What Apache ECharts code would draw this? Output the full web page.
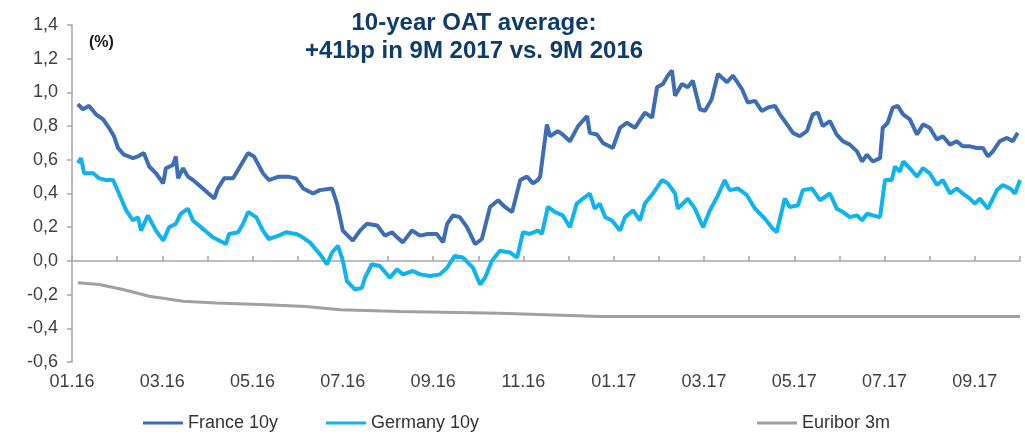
<!DOCTYPE html>
<html>
<head>
<meta charset="utf-8">
<script src="https://cdn.jsdelivr.net/npm/echarts@6/dist/echarts.min.js"></script>
<style>
  html, body { margin: 0; padding: 0; background: #fff; }
  #chart { width: 1025px; height: 437px; }
</style>
</head>
<body>
<div id="chart"></div>
<script>
// x = months since 01.2016, y = yield in %
const monthLabels = ['01.16', '03.16', '05.16', '07.16', '09.16', '11.16', '01.17', '03.17', '05.17', '07.17', '09.17'];

const france10y = [
  [0.13, 0.93], [0.24, 0.90], [0.38, 0.92], [0.53, 0.87], [0.69, 0.84], [0.82, 0.79], [0.93, 0.74],
  [1.02, 0.67], [1.15, 0.63], [1.35, 0.61], [1.46, 0.62], [1.59, 0.64], [1.71, 0.56], [1.86, 0.52],
  [2.02, 0.46], [2.08, 0.55], [2.24, 0.57], [2.30, 0.62], [2.35, 0.49], [2.46, 0.55], [2.57, 0.50],
  [2.68, 0.48], [2.90, 0.43], [3.15, 0.37], [3.23, 0.43], [3.37, 0.49], [3.57, 0.49], [3.70, 0.55],
  [3.90, 0.64], [4.03, 0.62], [4.23, 0.52], [4.36, 0.48], [4.58, 0.50], [4.78, 0.50], [4.96, 0.49],
  [5.12, 0.43], [5.34, 0.40], [5.49, 0.42], [5.76, 0.43], [5.87, 0.34], [6.00, 0.18], [6.22, 0.12],
  [6.38, 0.18], [6.53, 0.22], [6.76, 0.21], [6.93, 0.15], [7.09, 0.17], [7.20, 0.14], [7.33, 0.11],
  [7.53, 0.18], [7.71, 0.15], [7.88, 0.16], [8.08, 0.16], [8.22, 0.11], [8.31, 0.22], [8.44, 0.27],
  [8.59, 0.26], [8.75, 0.20], [8.93, 0.10], [9.08, 0.13], [9.26, 0.32], [9.44, 0.36], [9.59, 0.32],
  [9.75, 0.29], [9.93, 0.48], [10.08, 0.50], [10.21, 0.46], [10.32, 0.48], [10.37, 0.50], [10.52, 0.81],
  [10.59, 0.74], [10.76, 0.77], [10.87, 0.75], [11.03, 0.71], [11.21, 0.80], [11.41, 0.86], [11.47, 0.76],
  [11.63, 0.75], [11.76, 0.70], [11.98, 0.67], [12.14, 0.79], [12.29, 0.82], [12.47, 0.79], [12.69, 0.88],
  [12.85, 0.85], [12.96, 1.03], [13.09, 1.05], [13.20, 1.10], [13.29, 1.13], [13.36, 0.98], [13.51, 1.05],
  [13.64, 1.03], [13.75, 1.07], [13.91, 0.90], [14.02, 0.89], [14.17, 0.96], [14.31, 1.11], [14.51, 1.06],
  [14.64, 1.10], [14.84, 1.02], [14.97, 0.94], [15.13, 0.95], [15.28, 0.89], [15.42, 0.91], [15.57, 0.92],
  [15.68, 0.87], [15.84, 0.81], [15.97, 0.76], [16.12, 0.74], [16.28, 0.77], [16.41, 0.87], [16.52, 0.88],
  [16.63, 0.80], [16.79, 0.83], [16.94, 0.75], [17.08, 0.71], [17.23, 0.69], [17.39, 0.65], [17.50, 0.59],
  [17.61, 0.63], [17.74, 0.59], [17.90, 0.61], [17.96, 0.79], [18.07, 0.82], [18.18, 0.91], [18.29, 0.92],
  [18.41, 0.87], [18.56, 0.84], [18.72, 0.75], [18.85, 0.81], [19.00, 0.79], [19.16, 0.72], [19.29, 0.74],
  [19.45, 0.69], [19.60, 0.71], [19.73, 0.68], [19.89, 0.68], [20.04, 0.67], [20.18, 0.67], [20.29, 0.62],
  [20.40, 0.65], [20.55, 0.71], [20.71, 0.73], [20.84, 0.71], [20.95, 0.76]
];

const germany10y = [
  [0.13, 0.58], [0.20, 0.61], [0.27, 0.52], [0.47, 0.52], [0.60, 0.49], [0.75, 0.48], [0.91, 0.48],
  [1.04, 0.40], [1.20, 0.30], [1.35, 0.24], [1.46, 0.26], [1.53, 0.18], [1.68, 0.27], [1.86, 0.18],
  [2.02, 0.12], [2.15, 0.20], [2.30, 0.22], [2.41, 0.28], [2.57, 0.31], [2.68, 0.24], [2.90, 0.19],
  [3.12, 0.14], [3.41, 0.10], [3.48, 0.16], [3.68, 0.17], [3.79, 0.22], [3.90, 0.29], [4.08, 0.26],
  [4.23, 0.18], [4.36, 0.13], [4.58, 0.15], [4.74, 0.17], [4.96, 0.16], [5.05, 0.15], [5.27, 0.11],
  [5.49, 0.04], [5.65, -0.02], [5.76, 0.05], [5.89, 0.09], [6.00, 0.00], [6.09, -0.12], [6.27, -0.17],
  [6.42, -0.16], [6.49, -0.10], [6.64, -0.02], [6.82, -0.03], [7.04, -0.10], [7.20, -0.05], [7.33, -0.08],
  [7.55, -0.06], [7.71, -0.08], [7.93, -0.09], [8.15, -0.08], [8.31, -0.04], [8.48, 0.03], [8.66, 0.02],
  [8.88, -0.04], [9.04, -0.14], [9.15, -0.10], [9.30, 0.00], [9.48, 0.06], [9.70, 0.05], [9.86, 0.02],
  [9.99, 0.17], [10.14, 0.16], [10.32, 0.18], [10.41, 0.16], [10.54, 0.32], [10.70, 0.29], [10.87, 0.27],
  [11.03, 0.20], [11.18, 0.34], [11.32, 0.37], [11.47, 0.40], [11.58, 0.31], [11.69, 0.34], [11.81, 0.26],
  [11.96, 0.24], [12.14, 0.18], [12.25, 0.26], [12.43, 0.30], [12.58, 0.24], [12.69, 0.34], [12.87, 0.40],
  [13.07, 0.48], [13.20, 0.46], [13.36, 0.40], [13.42, 0.31], [13.64, 0.37], [13.80, 0.31], [13.98, 0.20],
  [14.13, 0.30], [14.31, 0.39], [14.46, 0.48], [14.57, 0.42], [14.75, 0.43], [14.95, 0.39], [15.13, 0.31],
  [15.35, 0.25], [15.53, 0.19], [15.61, 0.17], [15.79, 0.37], [15.90, 0.32], [16.08, 0.33], [16.19, 0.42],
  [16.39, 0.43], [16.57, 0.36], [16.79, 0.40], [16.94, 0.31], [17.08, 0.29], [17.23, 0.26], [17.39, 0.27],
  [17.50, 0.24], [17.61, 0.28], [17.74, 0.27], [17.90, 0.26], [18.01, 0.48], [18.16, 0.48], [18.23, 0.56],
  [18.34, 0.53], [18.41, 0.59], [18.56, 0.55], [18.72, 0.50], [18.85, 0.55], [19.00, 0.52], [19.16, 0.45],
  [19.29, 0.48], [19.45, 0.40], [19.60, 0.43], [19.73, 0.40], [19.89, 0.37], [20.00, 0.34], [20.11, 0.37],
  [20.29, 0.31], [20.49, 0.42], [20.62, 0.45], [20.78, 0.43], [20.89, 0.40], [21.00, 0.48]
];

const euribor3m = [
  [0.13, -0.13], [0.60, -0.14], [1.13, -0.17], [1.71, -0.21], [2.46, -0.24], [3.19, -0.25],
  [4.30, -0.26], [5.18, -0.27], [5.94, -0.29], [7.26, -0.30], [9.48, -0.31], [11.69, -0.33],
  [13.91, -0.33], [16.12, -0.33], [18.34, -0.33], [21.00, -0.33]
];

const FONT = 'Liberation Sans, Arial, sans-serif';
const AXIS_GREY = '#a6a6a6';

let chart = echarts.init(document.getElementById('chart'));

chart.setOption({
  animation: false,
  title: {
    text: '10-year OAT average:\n+41bp in 9M 2017 vs. 9M 2016',
    left: 469,
    top: 4,
    textAlign: 'center',
    textStyle: { color: '#0f3d6b', fontSize: 24, fontWeight: 'bold', lineHeight: 28, fontFamily: FONT }
  },
  graphic: [
    {
      type: 'text', left: 89, top: 35,
      style: { text: '(%)', fill: '#1a1a1a', font: 'bold 16px ' + FONT }
    }
  ],
  legend: [
    { data: ['France 10y'], left: 138, top: 409 },
    { data: ['Germany 10y'], left: 321, top: 409 },
    { data: ['Euribor 3m'], left: 752, top: 409 }
  ].map(l => Object.assign(l, {
    icon: 'rect', itemWidth: 40, itemHeight: 3,
    textStyle: { color: '#333', fontSize: 18, fontFamily: FONT }
  })),
  grid: { left: 72, right: 5, top: 25, bottom: 75 },
  xAxis: [
    {
      // label axis at the bottom
      type: 'value', min: 0, max: 21, interval: 1, position: 'bottom',
      axisLine: { show: false, onZero: false },
      axisTick: { show: false },
      splitLine: { show: false },
      axisLabel: {
        margin: 11, color: '#404040', fontSize: 18, fontFamily: FONT,
        formatter: v => (v % 2 === 0 ? monthLabels[v / 2] : '')
      }
    },
    {
      // zero line with monthly ticks
      type: 'value', min: 0, max: 21, interval: 1, position: 'top',
      axisLine: { onZero: true, lineStyle: { color: AXIS_GREY, width: 1.5 } },
      axisTick: { length: 5, lineStyle: { color: AXIS_GREY, width: 1.5 } },
      splitLine: { show: false },
      axisLabel: { show: false }
    }
  ],
  yAxis: {
    type: 'value', min: -0.6, max: 1.4, interval: 0.2,
    axisLine: { show: true, lineStyle: { color: AXIS_GREY, width: 1.5 } },
    axisTick: { show: true, length: 5, lineStyle: { color: AXIS_GREY, width: 1.5 } },
    splitLine: { show: false },
    axisLabel: {
      margin: 14, color: '#404040', fontSize: 18, fontFamily: FONT,
      formatter: v => v.toFixed(1).replace('.', ',')
    }
  },
  series: [
    {
      name: 'Euribor 3m', type: 'line', data: euribor3m, showSymbol: false,
      color: '#a0a0a0', lineStyle: { width: 3 }
    },
    {
      name: 'Germany 10y', type: 'line', data: germany10y, showSymbol: false,
      color: '#0fb3ee', lineStyle: { width: 4 }
    },
    {
      name: 'France 10y', type: 'line', data: france10y, showSymbol: false,
      color: '#3d6db5', lineStyle: { width: 4 }
    }
  ]
});
</script>
</body>
</html>
